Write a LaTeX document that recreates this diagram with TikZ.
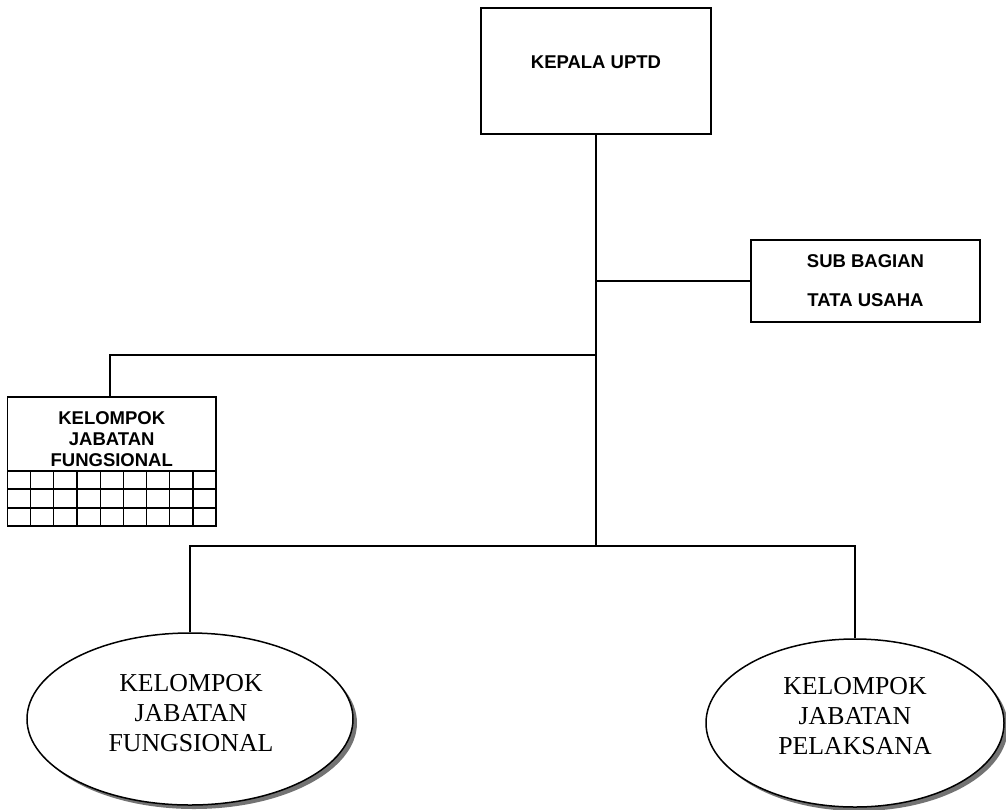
\documentclass[tikz,border=0pt]{standalone}
\usepackage{fontspec}
\setmainfont{Liberation Serif}
\setsansfont{Liberation Sans}
\usetikzlibrary{shapes.geometric,shadows}
\begin{document}
\begin{tikzpicture}[x=1pt,y=-1pt,
  line width=1.5pt,
  box/.style={draw=black,line width=1.5pt,rectangle,inner sep=0pt,fill=white},
  btxt/.style={font=\sffamily\bfseries\fontsize{18.5}{21}\selectfont,align=center,inner sep=0pt},
  etxt/.style={font=\rmfamily\fontsize{25.8}{30}\selectfont,align=center,inner sep=0pt},
  oval/.style={draw=black,line width=1.5pt,ellipse,inner sep=0pt,fill=white,
    drop shadow={shadow xshift=4pt,shadow yshift=-4pt,fill=black!55,opacity=1}}]
\useasboundingbox (0,0) rectangle (1006,809);
% boxes
\node[box,minimum width=230pt,minimum height=126pt] (kepala) at (596,71) {};
\node[btxt] (tkepala) at (596,62) {KEPALA UPTD};
\node[box,minimum width=229pt,minimum height=82pt] (sub) at (865.5,281) {};
\node[btxt,font=\sffamily\bfseries\fontsize{18.5}{39}\selectfont] (tsub) at (865.5,280.5) {SUB BAGIAN\\TATA USAHA};
\node[box,minimum width=208.5pt,minimum height=129pt] (kjf) at (111.75,461.5) {};
\node[btxt] (tkjf) at (111.75,439) {KELOMPOK\\JABATAN\\FUNGSIONAL};
% grid in left box
\foreach \yy in {471,489,508} \draw[line width=1.3pt] (7.5,\yy) -- (216,\yy);
\foreach \k in {1,...,8} \draw[line width=1.3pt] ({7.5+23.17*\k},471) -- ({7.5+23.17*\k},526);
% ellipses
\node[oval,minimum width=326pt,minimum height=172pt] (e1) at (190,719) {};
\node[etxt] (te1) at (191,713.5) {KELOMPOK\\JABATAN\\FUNGSIONAL};
\node[oval,minimum width=298pt,minimum height=168pt] (e2) at (855,723) {};
\node[etxt] (te2) at (855,716.5) {KELOMPOK\\JABATAN\\PELAKSANA};
% junctions
\coordinate (j1) at (596,281);
\coordinate (j2) at (596,355);
\coordinate (j3) at (596,546);
% connectors
\draw (kepala.south) -- (j3);
\draw (j1) -- (sub.west);
\draw (j2) -| ([xshift=-1.75pt]kjf.north);
\draw (e1.north) |- (j3) -| (e2.north);
\end{tikzpicture}
\end{document}
